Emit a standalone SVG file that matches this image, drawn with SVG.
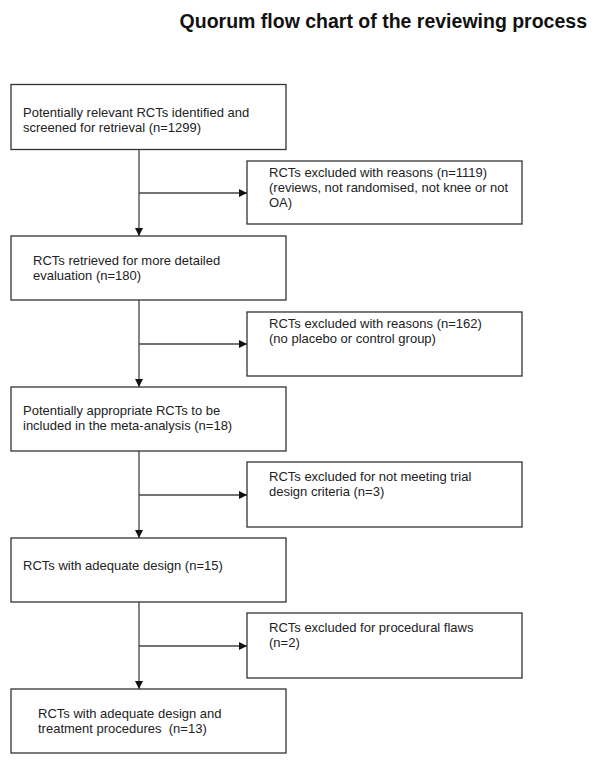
<svg xmlns="http://www.w3.org/2000/svg" width="600" height="767" viewBox="0 0 600 767">
<style>
.bg{fill:#ffffff}
.box{fill:#ffffff;stroke:#333333;stroke-width:1.3}
.t{font-family:"Liberation Sans",Arial,sans-serif;font-size:13px;fill:#222222;white-space:pre}
.title{font-family:"Liberation Sans",Arial,sans-serif;font-size:19.5px;font-weight:bold;fill:#111111}
.ln{fill:none;stroke:#444444;stroke-width:1.3}
</style>
<defs>
<marker id="ah" viewBox="0 0 10 10" refX="10" refY="5" markerWidth="9" markerHeight="8" markerUnits="userSpaceOnUse" orient="auto">
<path d="M0,0 L10,5 L0,10 Z" fill="#111111"/>
</marker>
</defs>
<rect class="bg" x="0" y="0" width="600" height="767"/>
<text class="title" x="587" y="28" text-anchor="end">Quorum flow chart of the reviewing process</text>
<g id="connectors">
<line class="ln" x1="139" y1="149.5" x2="139" y2="236" marker-end="url(#ah)"/>
<line class="ln" x1="139" y1="193" x2="247" y2="193" marker-end="url(#ah)"/>
<line class="ln" x1="139" y1="300" x2="139" y2="387" marker-end="url(#ah)"/>
<line class="ln" x1="139" y1="344" x2="247" y2="344" marker-end="url(#ah)"/>
<line class="ln" x1="139" y1="451" x2="139" y2="538" marker-end="url(#ah)"/>
<line class="ln" x1="139" y1="495" x2="247" y2="495" marker-end="url(#ah)"/>
<line class="ln" x1="139" y1="602" x2="139" y2="689" marker-end="url(#ah)"/>
<line class="ln" x1="139" y1="646" x2="247" y2="646" marker-end="url(#ah)"/>
</g>
<g id="n1">
<rect class="box" x="11" y="84.5" width="275" height="65"/>
<text class="t" x="23" y="117">Potentially relevant RCTs identified and</text>
<text class="t" x="23" y="132">screened for retrieval (n=1299)</text>
</g>
<g id="x1">
<rect class="box" x="247" y="161" width="275" height="63"/>
<text class="t" x="269" y="177">RCTs excluded with reasons (n=1119)</text>
<text class="t" x="269" y="192">(reviews, not randomised, not knee or not</text>
<text class="t" x="269" y="207">OA)</text>
</g>
<g id="n2">
<rect class="box" x="11" y="236" width="275" height="64"/>
<text class="t" x="33" y="265">RCTs retrieved for more detailed</text>
<text class="t" x="33" y="280">evaluation (n=180)</text>
</g>
<g id="x2">
<rect class="box" x="247" y="312" width="275" height="64"/>
<text class="t" x="269" y="328">RCTs excluded with reasons (n=162)</text>
<text class="t" x="269" y="343">(no placebo or control group)</text>
</g>
<g id="n3">
<rect class="box" x="11" y="387" width="275" height="64"/>
<text class="t" x="23" y="415">Potentially appropriate RCTs to be</text>
<text class="t" x="23" y="430">included in the meta-analysis (n=18)</text>
</g>
<g id="x3">
<rect class="box" x="247" y="462" width="275" height="65"/>
<text class="t" x="269" y="481">RCTs excluded for not meeting trial</text>
<text class="t" x="269" y="496">design criteria (n=3)</text>
</g>
<g id="n4">
<rect class="box" x="11" y="538" width="275" height="64"/>
<text class="t" x="23" y="570">RCTs with adequate design (n=15)</text>
</g>
<g id="x4">
<rect class="box" x="247" y="613" width="275" height="65"/>
<text class="t" x="269" y="632">RCTs excluded for procedural flaws</text>
<text class="t" x="269" y="647">(n=2)</text>
</g>
<g id="n5">
<rect class="box" x="11" y="689" width="275" height="64"/>
<text class="t" x="38" y="718">RCTs with adequate design and</text>
<text class="t" x="38" y="733">treatment procedures  (n=13)</text>
</g>
</svg>
